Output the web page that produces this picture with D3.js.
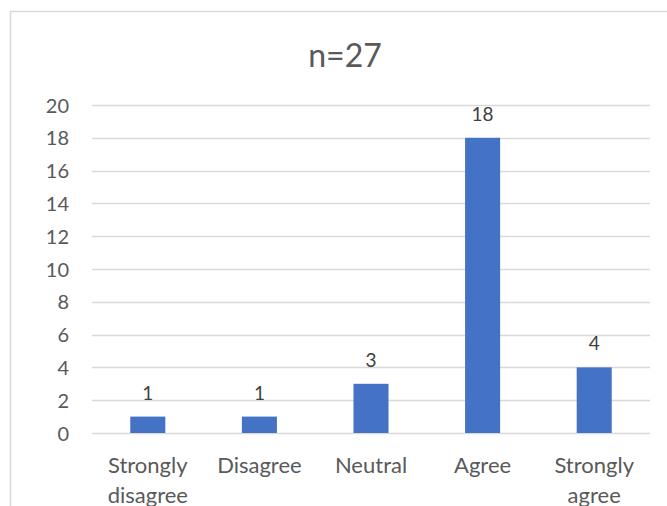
<!DOCTYPE html>
<html>
<head>
<meta charset="utf-8">
<script src="https://cdn.jsdelivr.net/npm/d3@7"></script>
<style>
  html, body { margin: 0; padding: 0; background: #fff; }
  svg { display: block; font-family: Lato, "Open Sans", sans-serif; }
</style>
</head>
<body>
<svg id="chart" width="667" height="506"></svg>
<script>
// Survey responses (n=27)
const categories = [["Strongly", "disagree"], ["Disagree"], ["Neutral"], ["Agree"], ["Strongly", "agree"]];
const counts = [1, 1, 3, 18, 4];
const yTicks = [0, 2, 4, 6, 8, 10, 12, 14, 16, 18, 20];
const title = "n=27";

const svg = d3.select("#chart");
const textColor = "#595959";
const gridColor = "#d9d9d9";
const barColor = "#4472c4";

// chart frame
svg.append("path")
  .attr("d", "M10.5,506 V11.5 H667")
  .attr("fill", "none")
  .attr("stroke", gridColor)
  .attr("stroke-width", 1.5);

const plot = { left: 92, right: 650, top: 105, bottom: 433 };

const x = d3.scaleBand()
  .domain(d3.range(counts.length))
  .range([plot.left, plot.right])
  .paddingInner(0.686)
  .paddingOuter(0.343);

const y = d3.scaleLinear()
  .domain([0, 20])
  .range([plot.bottom, plot.top]);

// gridlines
svg.append("g")
  .selectAll("line")
  .data(yTicks)
  .join("line")
  .attr("x1", plot.left)
  .attr("x2", plot.right)
  .attr("y1", d => Math.round(y(d)) + 0.5)
  .attr("y2", d => Math.round(y(d)) + 0.5)
  .attr("stroke", gridColor)
  .attr("stroke-width", 1.5);

// y-axis labels
const yAxis = d3.axisLeft(y).tickValues(yTicks).tickSize(0).tickPadding(0);
svg.append("g")
  .attr("transform", `translate(${plot.left - 23},0)`)
  .call(yAxis)
  .call(g => g.select(".domain").remove())
  .selectAll("text")
  .attr("fill", textColor)
  .attr("font-size", 20)
  .attr("font-family", "Lato, sans-serif")
  .attr("dy", "0.35em");

// bars
svg.append("g")
  .selectAll("rect")
  .data(counts)
  .join("rect")
  .attr("x", (d, i) => x(i))
  .attr("width", x.bandwidth())
  .attr("y", d => y(d))
  .attr("height", d => y(0) - y(d))
  .attr("fill", barColor);

// value labels
svg.append("g")
  .selectAll("text")
  .data(counts)
  .join("text")
  .attr("x", (d, i) => x(i) + x.bandwidth() / 2)
  .attr("y", d => y(d) - 17)
  .attr("text-anchor", "middle")
  .attr("fill", "#404040")
  .attr("font-size", 19)
  .text(d => d);

// category labels
const cat = svg.append("g")
  .selectAll("text")
  .data(categories)
  .join("text")
  .attr("x", (d, i) => x(i) + x.bandwidth() / 2)
  .attr("y", 473)
  .attr("text-anchor", "middle")
  .attr("fill", textColor)
  .attr("font-size", 22);
cat.selectAll("tspan")
  .data(d => d)
  .join("tspan")
  .attr("x", function() { return d3.select(this.parentNode).attr("x"); })
  .attr("dy", (d, j) => j === 0 ? 0 : 30)
  .text(d => d);

// title
svg.append("text")
  .attr("x", 345)
  .attr("y", 67)
  .attr("text-anchor", "middle")
  .attr("fill", textColor)
  .attr("font-size", 32)
  .text(title);
</script>
</body>
</html>
